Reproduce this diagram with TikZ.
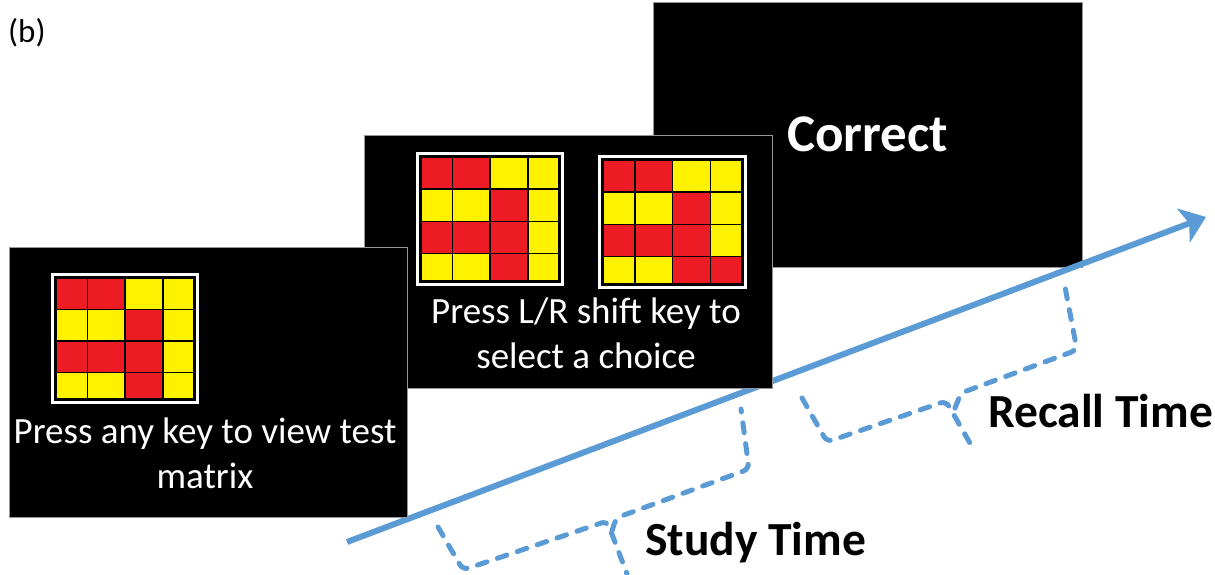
\documentclass[tikz,border=0pt]{standalone}
\usepackage{fontspec}
\setmainfont{Carlito}
\usetikzlibrary{arrows.meta}
\definecolor{arrowc}{RGB}{91,155,213}
\definecolor{rr}{RGB}{237,28,36}
\definecolor{yy}{RGB}{255,242,0}
\definecolor{pborder}{RGB}{150,150,150}
\tikzset{
  panel/.style={draw=pborder, line width=1pt, fill=black, inner sep=0pt},
  slidetext/.style={text=white, anchor=base, inner sep=0pt, font=\fontsize{37}{45}\selectfont},
  bigtext/.style={anchor=base west, inner sep=0pt, font=\fontsize{47.5}{57}\selectfont\bfseries},
  timeline/.style={draw=arrowc, line width=6pt, -{Stealth[length=24pt,width=36pt,inset=6pt]}},
  dbrace/.style={draw=arrowc, line width=5pt, dash pattern=on 10pt off 11pt, rounded corners=6pt, line cap=round},
  cell/.style={draw=black, line width=1.5pt},
}
\newcommand\mgrid[5]{%
  \draw[white, line width=3pt] (#1-3.5,#2-3.5) rectangle (#1+#3+3.5,#2+#4+3.5);
  \begin{scope}[shift={(#1,#2)}, x=#3pt, y=-#4pt]
    \foreach \c [count=\i from 0] in {#5} {
      \pgfmathtruncatemacro\col{mod(\i,4)}
      \pgfmathtruncatemacro\row{int(\i/4)}
      \pgfmathsetmacro\xa{{0,0.23,0.5,0.775,1}[\col]}
      \pgfmathsetmacro\xb{{0,0.23,0.5,0.775,1}[\col+1]}
      \pgfmathsetmacro\ya{{0,0.26,0.52,0.78,1}[\row]}
      \pgfmathsetmacro\yb{{0,0.26,0.52,0.78,1}[\row+1]}
      \filldraw[cell, fill=\c] (\xa,\ya) rectangle (\xb,\yb);
    }
  \end{scope}
}
\begin{document}
\begin{tikzpicture}[x=1pt, y=-1pt]
\useasboundingbox (0,0) rectangle (1215,575);

% label
\node[anchor=base west, inner sep=0pt, font=\fontsize{33}{40}\selectfont] (lbl) at (8,43) {(b)};

% slide 3
\node[panel, minimum width=429pt, minimum height=264pt] (s3) at (867.5,135) {};
\node[anchor=base west, inner sep=0pt, text=white, font=\fontsize{53}{64}\selectfont\bfseries] (corr) at (787,152) {Correct};

% time arrow
\coordinate (a0) at (347,542);
\coordinate (a1) at (1206,217);
\draw[timeline] (a0) -- (a1);

% slide 2
\node[panel, minimum width=408pt, minimum height=252pt] (s2) at (568,262) {};
\mgrid{421}{157}{138}{124}{rr,rr,yy,yy, yy,yy,rr,yy, rr,rr,rr,yy, yy,yy,rr,yy}
\mgrid{603}{160}{139}{124}{rr,rr,yy,yy, yy,yy,rr,yy, rr,rr,rr,yy, yy,yy,rr,rr}
\node[slidetext] (t2a) at (586,323) {Press L/R shift key to};
\node[slidetext] (t2b) at (586,368) {select a choice};

% slide 1
\node[panel, minimum width=398pt, minimum height=270pt] (s1) at (208,382) {};
\mgrid{56}{278}{138}{121}{rr,rr,yy,yy, yy,yy,rr,yy, rr,rr,rr,yy, yy,yy,rr,yy}
\node[slidetext] (t1a) at (205,443) {Press any key to view test};
\node[slidetext] (t1b) at (205,488) {matrix};

% study brace
\coordinate (sb1) at (438,527);
\coordinate (sb2) at (463,570);
\coordinate (sb3) at (607,521);
\coordinate (sb4) at (627,574);
\coordinate (sb5) at (612,531);
\coordinate (sb6) at (616,518);
\coordinate (sb7) at (749,469);
\coordinate (sb8) at (741,409);
\draw[dbrace] (sb1) -- (sb2) -- (sb3) -- (sb4);
\draw[dbrace] (sb5) -- (sb6) -- (sb7) -- (sb8);
\node[bigtext] (study) at (645,555) {Study Time};

% recall brace
\coordinate (rb1) at (802,398);
\coordinate (rb2) at (827,442);
\coordinate (rb3) at (946,401);
\coordinate (rb4) at (975,452);
\coordinate (rb5) at (955,408);
\coordinate (rb6) at (961,393);
\coordinate (rb7) at (1077,350);
\coordinate (rb8) at (1065,287);
\draw[dbrace] (rb1) -- (rb2) -- (rb3) -- (rb4);
\draw[dbrace] (rb5) -- (rb6) -- (rb7) -- (rb8);
\node[bigtext] (recall) at (988,427) {Recall Time};
\end{tikzpicture}
\end{document}
